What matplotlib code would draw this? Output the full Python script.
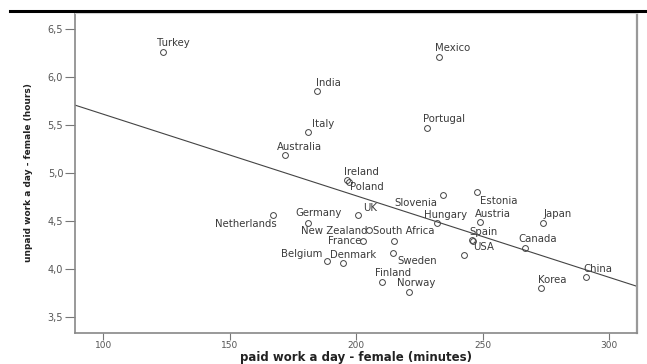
import numpy as np
import matplotlib as mpl
mpl.use('Agg')
import matplotlib.pyplot as plt
from matplotlib.lines import Line2D
from matplotlib.ticker import FuncFormatter

# paid work (minutes) vs unpaid work (hours) per day, women
countries = ['Turkey', 'Mexico', 'India', 'Italy', 'Australia', 'Portugal',
             'Ireland', 'Poland', 'Slovenia', 'Estonia', 'UK', 'Germany',
             'Netherlands', 'New Zealand', 'South Africa', 'France', 'Belgium',
             'Denmark', 'Sweden', 'Finland', 'Norway', 'Hungary', 'Austria',
             'Spain', 'USA', '', 'Japan', 'Canada', 'Korea', 'China']
paid_min = [123.7, 232.8, 184.6, 181.0, 171.9, 228.1,
            196.4, 197.2, 234.4, 247.8, 200.8, 181.0,
            167.2, 205.1, 215.0, 202.8, 188.5,
            194.9, 214.6, 210.3, 220.9, 232.0, 249.0,
            245.8, 246.2, 242.7, 273.9, 266.8, 273.1, 290.9]
unpaid_hrs = [6.26, 6.21, 5.86, 5.43, 5.19, 5.47,
              4.93, 4.91, 4.77, 4.80, 4.56, 4.48,
              4.56, 4.41, 4.29, 4.29, 4.08,
              4.06, 4.16, 3.86, 3.76, 4.48, 4.49,
              4.30, 4.29, 4.14, 4.48, 4.22, 3.80, 3.91]

x_ticks = [100, 150, 200, 250, 300]
y_ticks = [3.5, 4.0, 4.5, 5.0, 5.5, 6.0, 6.5]

# label placement: (dx, dy) in pixels from the marker, text alignment
label_pos = {
    'Turkey': (-6, 9, 'left'), 'Mexico': (-4, 9, 'left'),
    'India': (-1, 8, 'left'), 'Italy': (4, 8, 'left'),
    'Australia': (-8, 8, 'left'), 'Portugal': (-4, 9, 'left'),
    'Ireland': (-3, 8, 'left'), 'Poland': (1, -5, 'left'),
    'Slovenia': (-6, -8, 'right'), 'Estonia': (3, -9, 'left'),
    'UK': (5, 7, 'left'), 'Germany': (-13, 10, 'left'),
    'Netherlands': (4, -9, 'right'), 'New Zealand': (-2, -1, 'right'),
    'South Africa': (-21, 10, 'left'), 'France': (-2, 0, 'right'),
    'Belgium': (-5, 7, 'right'), 'Denmark': (-13, 8, 'left'),
    'Sweden': (4, -8, 'left'), 'Finland': (-7, 9, 'left'),
    'Norway': (-12, 9, 'left'), 'Hungary': (-13, 8, 'left'),
    'Austria': (-5, 8, 'left'), 'Spain': (-3, 8, 'left'),
    'USA': (0, -6, 'left'), 'Japan': (0, 9, 'left'),
    'Canada': (-7, 9, 'left'), 'Korea': (-3, 8, 'left'),
    'China': (-3, 8, 'left'),
}

fig = plt.figure(figsize=(6.47, 3.64), dpi=100)
ax = fig.add_axes([75 / 647, 31 / 364, 562 / 647, 320 / 364])

x = np.array(paid_min)
y = np.array(unpaid_hrs)
ax.plot(x, y, linestyle='none', marker='o', markersize=4.2,
        markerfacecolor='none', markeredgecolor='#444444', markeredgewidth=0.7)

for name, xi, yi in zip(countries, paid_min, unpaid_hrs):
    if not name:
        continue
    dx, dy, ha = label_pos[name]
    ax.annotate(name, (xi, yi), xytext=(dx, dy), textcoords='offset pixels',
                ha=ha, va='center', fontsize=7.3, color='#3a3a3a')

# least squares fit line across the whole axis
xlim = (88.9, 311.0)
slope, icpt = np.polyfit(x, y, 1)
xx = np.array(xlim)
ax.plot(xx, icpt + slope * xx, color='#444444', linewidth=0.8)

ax.set_xlim(*xlim)
ax.set_ylim(3.33, 6.67)
ax.set_xticks(x_ticks)
ax.set_yticks(y_ticks)
ax.yaxis.set_major_formatter(FuncFormatter(lambda v, p: ('%.1f' % v).replace('.', ',')))
ax.tick_params(direction='out', length=5, width=0.8, color='#777777',
               labelsize=6.5, labelcolor='#555555', pad=1)
ax.tick_params(axis='y', length=7, pad=1.5, labelsize=7)

for side, col, lw in [('left', '#888888', 1.2), ('bottom', '#888888', 1.2),
                      ('top', '#d5d5d5', 0.8), ('right', '#999999', 1.6)]:
    ax.spines[side].set_color(col)
    ax.spines[side].set_linewidth(lw)

ax.set_xlabel('paid work a day - female (minutes)', fontsize=8.5, fontweight='bold',
              color='#222222')
ax.xaxis.set_label_coords(0.5, -18.5 / 320)
ax.set_ylabel('unpaid work a day - female (hours)', fontsize=6.5, fontweight='bold',
              color='#222222')
ax.yaxis.set_label_coords(-42 / 562, 0.5)

# heavy rule across the top of the page
fig.add_artist(Line2D([10 / 647, 645 / 647], [1 - 10.5 / 364] * 2,
                      transform=fig.transFigure, color='black', linewidth=2.2))

fig.savefig('out.png', dpi=100)
